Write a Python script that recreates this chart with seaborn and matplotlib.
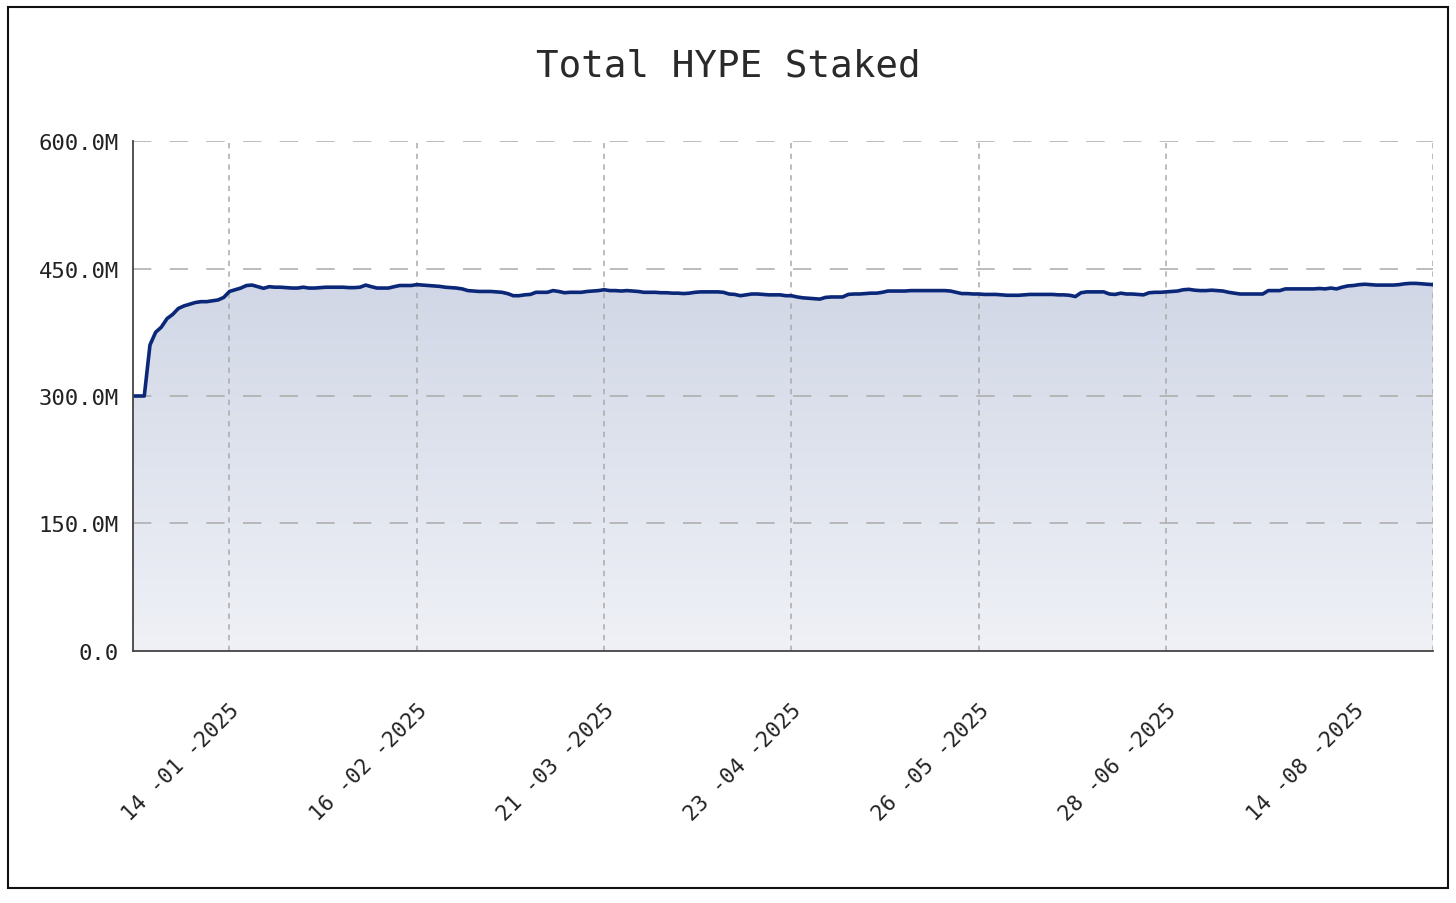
import numpy as np
import pandas as pd
import seaborn as sns
import matplotlib
matplotlib.use("Agg")
import matplotlib.pyplot as plt
from matplotlib.colors import LinearSegmentedColormap
from matplotlib.patches import Rectangle

# daily total staked, in millions of HYPE
staked_m = [
    300, 300, 300, 360, 375, 381, 391, 396, 403, 406,
    408, 410, 411, 411, 412, 413, 416, 423, 425, 427,
    430, 430.5, 428.6, 426.7, 428.6, 428, 428, 427.5, 427, 427,
    428, 427, 427, 427.5, 428, 428, 428, 428, 427.5, 427.5,
    428, 430.5, 428.6, 427, 427, 427, 428.6, 430, 430, 430,
    431, 430.5, 430, 429.4, 429, 428, 427.5, 427, 426, 424,
    423.5, 423, 423, 423, 422.5, 422, 420.5, 418, 418, 419,
    419.5, 422, 422, 422, 424, 423, 421.5, 422, 422, 422,
    423, 423.5, 424, 425, 424, 424, 423.5, 424, 423.5, 423,
    422, 422, 422, 421.5, 421.5, 421, 421, 420.5, 421, 422,
    422.5, 422.5, 422.5, 422.5, 422, 420, 419.5, 418, 419, 420,
    420, 419.5, 419, 419, 419, 418, 418, 416.5, 415.5, 415,
    414.5, 414, 416, 416.5, 416.5, 416.5, 419.5, 420, 420, 420.5,
    421, 421, 422, 423.5, 423.5, 423.5, 423.5, 424, 424, 424,
    424, 424, 424, 424, 423.5, 422, 420.5, 420.5, 420, 420,
    419.5, 419.5, 419.5, 419, 418.5, 418.5, 418.5, 419, 419.5, 419.5,
    419.5, 419.5, 419.5, 419, 419, 418.5, 417, 421.5, 422.5, 422.5,
    422.5, 422.5, 420, 419.5, 421, 420, 420, 419.5, 419, 421.5,
    422, 422, 422.5, 423, 423.5, 425, 425.5, 424.5, 424, 424,
    424.5, 424, 423.5, 422, 421, 420, 420, 420, 420, 420,
    424, 424, 424, 426, 426, 426, 426, 426, 426, 426.5,
    426, 427, 426, 428, 429.5, 430, 431, 431.5, 431, 430.5,
    430.5, 430.5, 430.5, 431, 432, 432.5, 432.5, 432, 431.5, 431,
]

tick_labels = ["14 -01 -2025", "16 -02 -2025", "21 -03 -2025", "23 -04 -2025",
               "26 -05 -2025", "28 -06 -2025"]
last_label = "14 -08 -2025"
y_ticks = [0, 150, 300, 450, 600]
y_tick_labels = ["0.0", "150.0M", "300.0M", "450.0M", "600.0M"]

df = pd.DataFrame({"day": np.arange(len(staked_m)), "staked": staked_m})

sns.set_style("white")
plt.rcParams["font.family"] = ["DejaVu Sans Mono", "DejaVu Sans"]

fig = plt.figure(figsize=(14.56, 9.04), dpi=100)
ax = fig.add_axes([0.0913, 0.2788, 0.8929, 0.5641])

last = len(staked_m) - 1
ax.set_xlim(0, last)
ax.set_ylim(0, 600)

# gradient area under the line
poly = ax.fill_between(df["day"], df["staked"], 0, color="none", lw=0)
grad = LinearSegmentedColormap.from_list("g", ["#eff1f6", "#d1d7e6"])
img = ax.imshow(np.linspace(0, 1, 256).reshape(-1, 1), cmap=grad, aspect="auto",
                origin="lower", extent=[0, last, 0, max(staked_m)], zorder=1)
img.set_clip_path(poly.get_paths()[0], transform=ax.transData)

sns.lineplot(data=df, x="day", y="staked", ax=ax, color="#0b2778", lw=2.6, zorder=3,
             solid_joinstyle="round", solid_capstyle="round")

# labelled ticks every 33 points; the last label has no tick mark
tick_pos = [17 + 33 * k for k in range(len(tick_labels))]
ax.set_xticks(tick_pos + [last])
ax.set_xticklabels(tick_labels + [""], rotation=45, ha="right", va="top",
                   rotation_mode="anchor", fontsize=15.5, color="#222222")
ax.set_xticks([17 + 33 * len(tick_labels)], minor=True)
ax.set_xticklabels([last_label], minor=True, rotation=45, ha="right", va="top",
                   rotation_mode="anchor", fontsize=15.5, color="#222222")
ax.set_yticks(y_ticks)
ax.set_yticklabels(y_tick_labels, fontsize=16, color="#222222")
ax.tick_params(axis="both", length=8, width=1.2, color="#444444")
ax.tick_params(axis="x", which="major", pad=27)
ax.tick_params(axis="x", which="minor", length=0, pad=35)
ax.tick_params(axis="y", pad=2)
ax.set_xlabel("")
ax.set_ylabel("")

for x in tick_pos + [last]:
    ax.axvline(x, color="#aaaaaa", lw=1.1, dashes=(3.5, 3.5), zorder=2)
for y in y_ticks[1:]:
    ax.axhline(y, color="#aaaaaa", lw=1.1, dashes=(12, 12), zorder=2)

for s in ["top", "right"]:
    ax.spines[s].set_visible(False)
for s in ["left", "bottom"]:
    ax.spines[s].set_color("#444444")
    ax.spines[s].set_linewidth(1.3)
    ax.spines[s].set_zorder(4)

fig.text(0.5, 0.926, "Total HYPE Staked", ha="center", va="center",
         fontsize=27, color="#2a2a2a")

fig.patches.append(Rectangle((0.0055, 0.0166), 0.989, 0.9746, transform=fig.transFigure,
                             fill=False, edgecolor="#111111", lw=1.5))

fig.savefig("out.png", dpi=100)
